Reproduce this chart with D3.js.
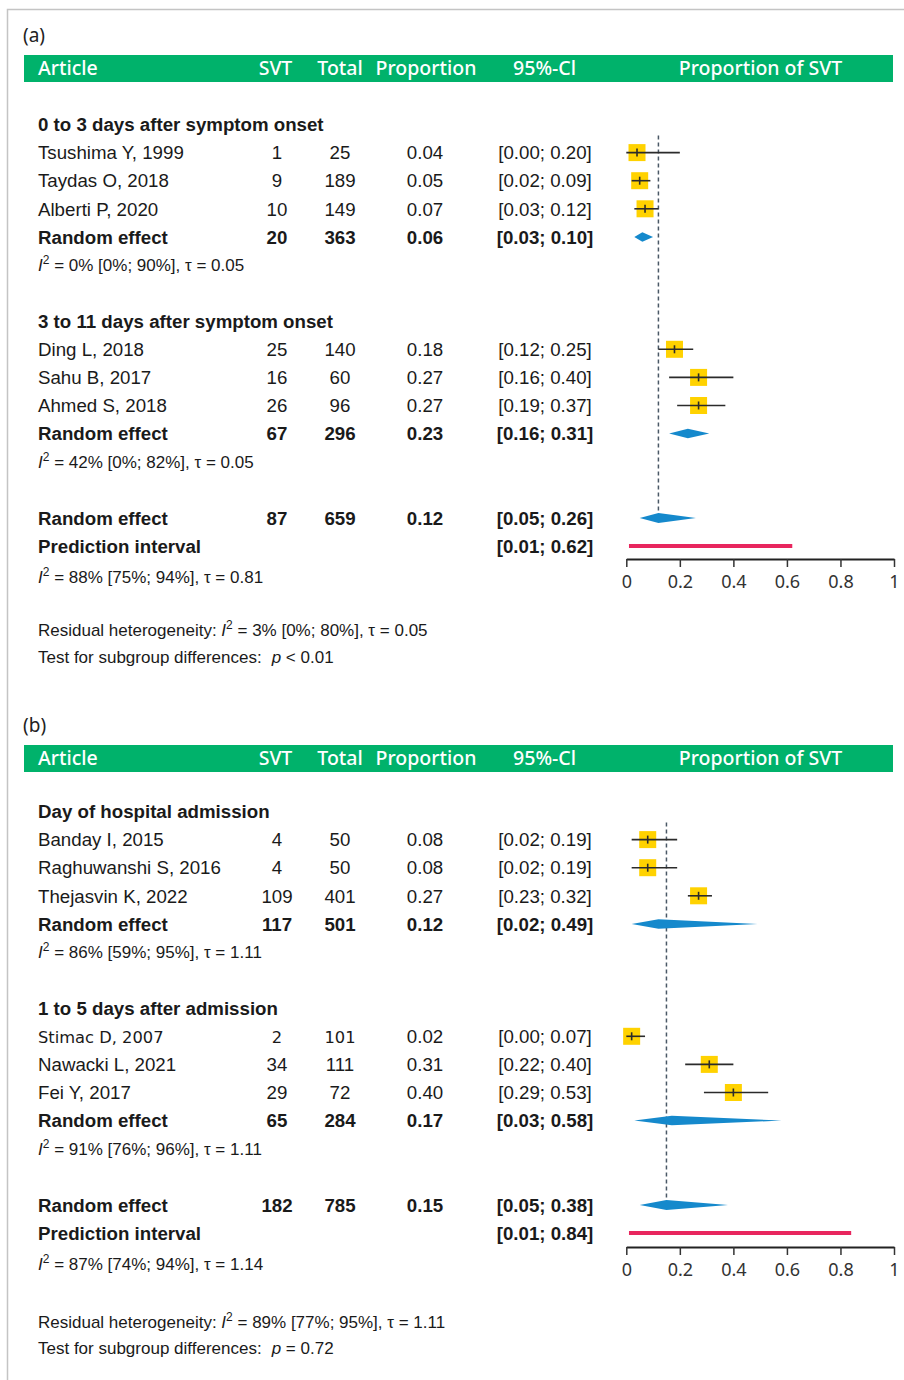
<!DOCTYPE html>
<html>
<head>
<meta charset="utf-8">
<script src="https://cdn.jsdelivr.net/npm/d3@7"></script>
<style>
  html, body { margin: 0; padding: 0; background: #fff; }
  svg { display: block; }
</style>
</head>
<body>
<svg id="chart" width="904" height="1380"></svg>
<script>
// ---------- shared labels ----------
const columnHeaders = ["Article", "SVT", "Total", "Proportion", "95%-Cl", "Proportion of SVT"];
const tickValues = [0, 0.2, 0.4, 0.6, 0.8, 1];
const tickLabels = ["0", "0.2", "0.4", "0.6", "0.8", "1"];

// ---------- panel (a): time from symptom onset ----------
const groupNamesA = ["0 to 3 days after symptom onset", "3 to 11 days after symptom onset"];
const studiesA = ["Tsushima Y, 1999", "Taydas O, 2018", "Alberti P, 2020", "Ding L, 2018", "Sahu B, 2017", "Ahmed S, 2018"];
const studyGroupA = [0, 0, 0, 1, 1, 1];
const svtA = [1, 9, 10, 25, 16, 26];
const totalA = [25, 189, 149, 140, 60, 96];
const propA = [0.04, 0.05, 0.07, 0.18, 0.27, 0.27];
const lowerA = [0.00, 0.02, 0.03, 0.12, 0.16, 0.19];
const upperA = [0.20, 0.09, 0.12, 0.25, 0.40, 0.37];
const groupSvtA = [20, 67];
const groupTotalA = [363, 296];
const groupPropA = [0.06, 0.23];
const groupLowerA = [0.03, 0.16];
const groupUpperA = [0.10, 0.31];
const groupHetA = ["0% [0%; 90%], τ = 0.05", "42% [0%; 82%], τ = 0.05"];
const overallA = [87, 659, 0.12, 0.05, 0.26];          // SVT, total, proportion, lower, upper
const predictionA = [0.01, 0.62];
const overallHetA = "88% [75%; 94%], τ = 0.81";
const residualHetA = "3% [0%; 80%], τ = 0.05";
const subgroupTestA = "< 0.01";

// ---------- panel (b): time relative to admission ----------
const groupNamesB = ["Day of hospital admission", "1 to 5 days after admission"];
const studiesB = ["Banday I, 2015", "Raghuwanshi S, 2016", "Thejasvin K, 2022", "Stimac D, 2007", "Nawacki L, 2021", "Fei Y, 2017"];
const studyGroupB = [0, 0, 0, 1, 1, 1];
const svtB = [4, 4, 109, 2, 34, 29];
const totalB = [50, 50, 401, 101, 111, 72];
const propB = [0.08, 0.08, 0.27, 0.02, 0.31, 0.40];
const lowerB = [0.02, 0.02, 0.23, 0.00, 0.22, 0.29];
const upperB = [0.19, 0.19, 0.32, 0.07, 0.40, 0.53];
const groupSvtB = [117, 65];
const groupTotalB = [501, 284];
const groupPropB = [0.12, 0.17];
const groupLowerB = [0.02, 0.03];
const groupUpperB = [0.49, 0.58];
const groupHetB = ["86% [59%; 95%], τ = 1.11", "91% [76%; 96%], τ = 1.11"];
const overallB = [182, 785, 0.15, 0.05, 0.38];
const predictionB = [0.01, 0.84];
const overallHetB = "87% [74%; 94%], τ = 1.14";
const residualHetB = "89% [77%; 95%], τ = 1.11";
const subgroupTestB = "= 0.72";

// ---------- styling ----------
const GREEN = "#00b26b";
const YELLOW = "#ffd200";
const BLUE = "#1589cc";
const PINK = "#e8265e";
const INK = "#1a1a1a";
const TABLE_FONT = "'Liberation Sans', Arial, sans-serif";
const HEAD_FONT = "'Noto Sans', 'Open Sans', sans-serif";
const TABLE_SIZE = 18.7;
const NOTE_SIZE = 17;
const altFontStudies = new Set(["Stimac D, 2007"]);   // row typeset in a wider face

const ROW_STEP = 28.1;
const col = { name: 38, svt: 277, total: 340, prop: 425, ci: 545 };
const fmt = d3.format(".2f");
const ciText = (lo, hi) => `[${fmt(lo)}; ${fmt(hi)}]`;

const svg = d3.select("#chart");

// outer frame
svg.append("path")
  .attr("d", "M7.5,1380 L7.5,9.5 L904,9.5")
  .attr("fill", "none")
  .attr("stroke", "#c4c4c4")
  .attr("stroke-width", 1.5);

const x = d3.scaleLinear().domain([0, 1]).range([626.3, 894]);

function buildPanel(p) {
  const rows = [];
  let idx = 0;
  p.groupNames.forEach((gName, g) => {
    rows.push({ type: "group", idx: idx++, label: gName });
    p.studies.forEach((s, i) => {
      if (p.studyGroup[i] !== g) return;
      rows.push({ type: "study", idx: idx++, label: s, svt: p.svt[i], total: p.total[i],
                  est: p.prop[i], lo: p.lower[i], hi: p.upper[i] });
    });
    rows.push({ type: "pooled", idx: idx++, label: "Random effect", svt: p.groupSvt[g],
                total: p.groupTotal[g], est: p.groupProp[g], lo: p.groupLower[g], hi: p.groupUpper[g] });
    rows.push({ type: "het", idx: idx++, text: p.groupHet[g] });
    idx++; // spacer
  });
  rows.push({ type: "pooled", idx: idx++, label: "Random effect", svt: p.overall[0], total: p.overall[1],
              est: p.overall[2], lo: p.overall[3], hi: p.overall[4], overall: true });
  rows.push({ type: "prediction", idx: idx++, label: "Prediction interval", lo: p.prediction[0], hi: p.prediction[1] });
  return rows;
}

function hetText(sel, y, body, prefix) {
  const t = sel.append("text")
    .attr("x", col.name).attr("y", y + 6.2)
    .attr("font-family", TABLE_FONT).attr("font-size", NOTE_SIZE).attr("fill", INK);
  if (prefix) t.append("tspan").text(prefix);
  t.append("tspan").attr("font-style", "italic").text("I");
  t.append("tspan").attr("font-size", 12).attr("dy", -7).text("2");
  t.append("tspan").attr("dy", 7).text(" = " + body);
  return t;
}

function drawPanel(p, L) {
  const g = svg.append("g");
  const rows = buildPanel(p);
  const y = d3.scaleLinear().domain([0, 1]).range([L.row0, L.row0 + ROW_STEP]);

  // panel tag
  g.append("text").attr("x", 23).attr("y", L.tag + 6.5)
    .attr("font-family", HEAD_FONT).attr("font-size", 19).attr("fill", "#222")
    .text(p.tag);

  // header bar
  g.append("rect").attr("x", 24).attr("y", L.bar).attr("width", 869).attr("height", 27).attr("fill", GREEN);
  const headX = [38, 275.5, 340, 426, 544.5, 760.5];
  const headAnchor = ["start", "middle", "middle", "middle", "middle", "middle"];
  columnHeaders.forEach((h, i) => {
    g.append("text").attr("x", headX[i]).attr("y", L.bar + 19.5)
      .attr("text-anchor", headAnchor[i])
      .attr("font-family", HEAD_FONT).attr("font-size", 19.5).attr("font-weight", 500)
      .attr("fill", "#fff").text(h);
  });

  // reference line at the overall pooled estimate
  const firstStudy = rows.find(r => r.type === "study");
  const overallRow = rows.find(r => r.overall);
  g.append("line")
    .attr("x1", x(overallRow.est)).attr("x2", x(overallRow.est))
    .attr("y1", y(firstStudy.idx) - 17).attr("y2", y(overallRow.idx) - 5)
    .attr("stroke", "#4a5866").attr("stroke-width", 1.5).attr("stroke-dasharray", "4,3");

  rows.forEach(r => {
    const cy = y(r.idx);
    const base = cy + 6.7;
    if (r.type === "group") {
      g.append("text").attr("x", col.name).attr("y", base)
        .attr("font-family", TABLE_FONT).attr("font-size", TABLE_SIZE).attr("font-weight", 700)
        .attr("fill", INK).text(r.label);
    } else if (r.type === "het") {
      hetText(g, cy, r.text);
    } else if (r.type === "study" || r.type === "pooled") {
      const bold = r.type === "pooled" ? 700 : 400;
      const alt = altFontStudies.has(r.label);
      const cells = [
        [col.name, "start", r.label, alt],
        [col.svt, "middle", r.svt, alt],
        [col.total, "middle", r.total, alt],
        [col.prop, "middle", fmt(r.est), false],
        [col.ci, "middle", ciText(r.lo, r.hi), false]
      ];
      cells.forEach(([cx, anchor, txt, altFace]) => {
        g.append("text").attr("x", cx).attr("y", altFace ? base - 0.5 : base)
          .attr("text-anchor", anchor)
          .attr("font-family", altFace ? "'DejaVu Sans', sans-serif" : TABLE_FONT)
          .attr("font-size", altFace ? 16.3 : TABLE_SIZE)
          .attr("font-weight", bold).attr("fill", INK).text(txt);
      });
      if (r.type === "study") {
        const s = 17;
        g.append("rect").attr("x", x(r.est) - s / 2).attr("y", cy - s / 2)
          .attr("width", s).attr("height", s).attr("fill", YELLOW);
        g.append("line").attr("x1", x(r.lo)).attr("x2", x(r.hi)).attr("y1", cy).attr("y2", cy)
          .attr("stroke", "#2b2b2b").attr("stroke-width", 1.6);
        g.append("line").attr("x1", x(r.est)).attr("x2", x(r.est)).attr("y1", cy - 4).attr("y2", cy + 4)
          .attr("stroke", "#2b2b2b").attr("stroke-width", 1.6);
      } else {
        const h = r.overall ? 10 : 9.5;
        const path = d3.path();
        path.moveTo(x(r.lo), cy);
        path.lineTo(x(r.est), cy - h / 2);
        path.lineTo(x(r.hi), cy);
        path.lineTo(x(r.est), cy + h / 2);
        path.closePath();
        g.append("path").attr("d", path.toString()).attr("fill", BLUE);
      }
    } else if (r.type === "prediction") {
      g.append("text").attr("x", col.name).attr("y", base)
        .attr("font-family", TABLE_FONT).attr("font-size", TABLE_SIZE).attr("font-weight", 700)
        .attr("fill", INK).text(r.label);
      g.append("text").attr("x", col.ci).attr("y", base).attr("text-anchor", "middle")
        .attr("font-family", TABLE_FONT).attr("font-size", TABLE_SIZE).attr("font-weight", 700)
        .attr("fill", INK).text(ciText(r.lo, r.hi));
      g.append("line").attr("x1", x(r.lo)).attr("x2", x(r.hi)).attr("y1", cy).attr("y2", cy)
        .attr("stroke", PINK).attr("stroke-width", 4);
    }
  });

  // overall heterogeneity and tests
  hetText(g, L.hetOverall, p.overallHet);
  hetText(g, L.residual, p.residualHet, "Residual heterogeneity: ");
  const test = g.append("text").attr("x", col.name).attr("y", L.test + 6.2)
    .attr("font-family", TABLE_FONT).attr("font-size", NOTE_SIZE).attr("fill", INK);
  test.append("tspan").text("Test for subgroup differences:");
  test.append("tspan").attr("dx", 10).attr("font-style", "italic").text("p");
  test.append("tspan").text(" " + p.subgroupTest);

  // x axis
  const axis = d3.axisBottom(x)
    .tickValues(tickValues)
    .tickFormat((d, i) => tickLabels[i])
    .tickSize(8).tickSizeOuter(0).tickPadding(8);
  const ax = g.append("g").attr("transform", `translate(0,${L.axis})`).call(axis);
  ax.select(".domain").attr("stroke", "#222").attr("stroke-width", 2);
  ax.selectAll(".tick line").attr("stroke", "#333").attr("stroke-width", 1.5);
  ax.selectAll(".tick text").attr("font-family", HEAD_FONT).attr("font-size", 18).attr("fill", "#333");
}

drawPanel({
  tag: "(a)", groupNames: groupNamesA, studies: studiesA, studyGroup: studyGroupA,
  svt: svtA, total: totalA, prop: propA, lower: lowerA, upper: upperA,
  groupSvt: groupSvtA, groupTotal: groupTotalA, groupProp: groupPropA,
  groupLower: groupLowerA, groupUpper: groupUpperA, groupHet: groupHetA,
  overall: overallA, prediction: predictionA, overallHet: overallHetA,
  residualHet: residualHetA, subgroupTest: subgroupTestA
}, { tag: 35, bar: 55, row0: 124.5, axis: 559, hetOverall: 577, residual: 630, test: 657 });

drawPanel({
  tag: "(b)", groupNames: groupNamesB, studies: studiesB, studyGroup: studyGroupB,
  svt: svtB, total: totalB, prop: propB, lower: lowerB, upper: upperB,
  groupSvt: groupSvtB, groupTotal: groupTotalB, groupProp: groupPropB,
  groupLower: groupLowerB, groupUpper: groupUpperB, groupHet: groupHetB,
  overall: overallB, prediction: predictionB, overallHet: overallHetB,
  residualHet: residualHetB, subgroupTest: subgroupTestB
}, { tag: 725, bar: 745, row0: 811.5, axis: 1247, hetOverall: 1264, residual: 1322, test: 1348 });
</script>
</body>
</html>
